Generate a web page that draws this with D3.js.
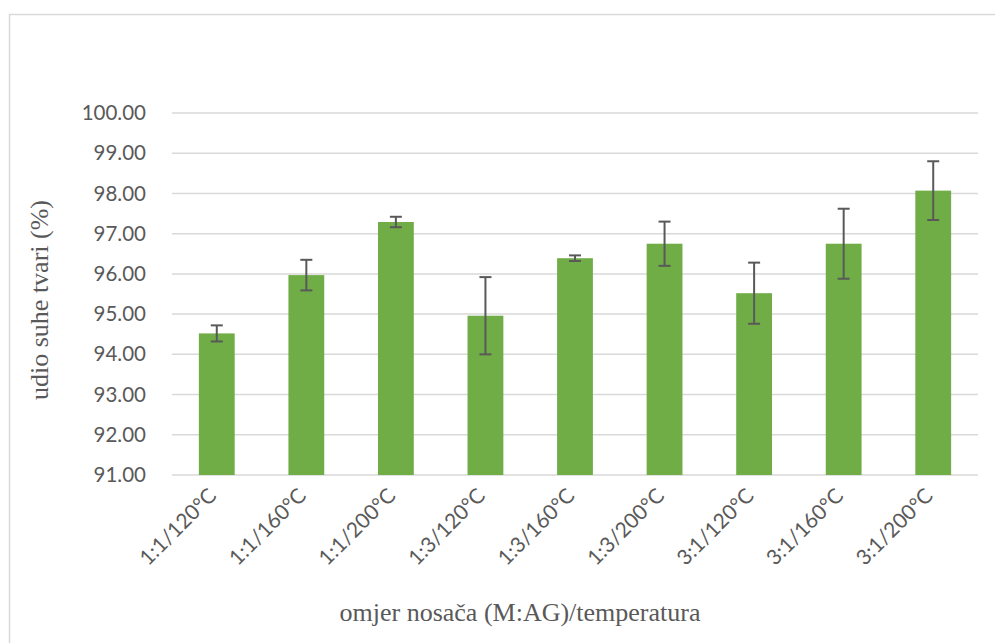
<!DOCTYPE html>
<html>
<head>
<meta charset="utf-8" />
<title>udio suhe tvari</title>
<style>
html, body {
	margin: 0px;
	padding: 0px;
	background: #fff;
}
svg { display: block; }
</style>
</head>
<body>
<div id="chart"></div>
<script src="https://d3js.org/d3.v7.min.js"></script>
<script>

// podaci
var categories = ["1:1/120°C", "1:1/160°C", "1:1/200°C", "1:3/120°C", "1:3/160°C", "1:3/200°C", "3:1/120°C", "3:1/160°C", "3:1/200°C"];
var values = [94.52, 95.97, 97.29, 94.96, 96.39, 96.75, 95.52, 96.75, 98.07];
var errors = [0.20, 0.38, 0.13, 0.96, 0.07, 0.55, 0.76, 0.87, 0.73];
var yTicks = [91, 92, 93, 94, 95, 96, 97, 98, 99, 100];

var W = 995, H = 643;
var margin = {top: 113, right: 17, bottom: 168, left: 172};

var svg = d3.select("#chart").append("svg")
	.attr("width", W)
	.attr("height", H);

// okvir grafikona
svg.append("rect")
	.attr("x", 9.5).attr("y", 14.5)
	.attr("width", W).attr("height", H)
	.attr("fill", "none")
	.attr("stroke", "#d9d9d9")
	.attr("stroke-width", 1.5);

var x = d3.scaleBand()
	.domain(categories)
	.range([margin.left, W - margin.right])
	.paddingInner(0.6)
	.paddingOuter(0.3);

var y = d3.scaleLinear()
	.domain([91, 100])
	.range([H - margin.bottom, margin.top]);

// mreza
svg.append("g")
	.selectAll("line")
	.data(yTicks)
	.enter()
	.append("line")
		.attr("x1", margin.left)
		.attr("x2", W - margin.right)
		.attr("y1", function(d){ return y(d); })
		.attr("y2", function(d){ return y(d); })
		.attr("stroke", "#d9d9d9")
		.attr("stroke-width", 1.5);

// y os
var yAxis = svg.append("g")
	.attr("transform", "translate(" + (margin.left - 23) + ",0)")
	.call(d3.axisLeft(y).tickValues(yTicks).tickFormat(d3.format(".2f")).tickSize(0));
yAxis.select(".domain").remove();
yAxis.selectAll("text")
	.attr("fill", "#595959")
	.style("font-family", "Lato, 'Open Sans', sans-serif")
	.style("font-size", "20.5px");

// stupci
svg.append("g")
	.selectAll("rect")
	.data(values)
	.enter()
	.append("rect")
		.attr("x", function(d, i){ return x(categories[i]); })
		.attr("width", x.bandwidth())
		.attr("y", function(d){ return y(d); })
		.attr("height", function(d){ return y(91) - y(d); })
		.attr("fill", "#70ad47");

// error bars
var eb = svg.append("g")
	.attr("stroke", "#595959")
	.attr("stroke-width", 2)
	.selectAll("g")
	.data(values)
	.enter()
	.append("g")
		.attr("transform", function(d, i){ return "translate(" + (x(categories[i]) + x.bandwidth() / 2) + ",0)"; });

eb.append("line")
	.attr("y1", function(d, i){ return y(d + errors[i]); })
	.attr("y2", function(d, i){ return y(d - errors[i]); });
eb.append("line")
	.attr("x1", -6).attr("x2", 6)
	.attr("y1", function(d, i){ return y(d + errors[i]); })
	.attr("y2", function(d, i){ return y(d + errors[i]); });
eb.append("line")
	.attr("x1", -6).attr("x2", 6)
	.attr("y1", function(d, i){ return y(d - errors[i]); })
	.attr("y2", function(d, i){ return y(d - errors[i]); });

// x os
var xAxis = svg.append("g")
	.attr("transform", "translate(0," + y(91) + ")")
	.call(d3.axisBottom(x).tickSize(0));
xAxis.select(".domain").remove();
xAxis.selectAll("text")
	.attr("fill", "#595959")
	.style("font-family", "Lato, 'Open Sans', sans-serif")
	.style("font-size", "21px")
	.style("text-anchor", "end")
	.attr("dy", null)
	.attr("y", 0)
	.attr("transform", "translate(1,22) rotate(-45)");

// naslovi osi
svg.append("text")
	.attr("x", 520)
	.attr("y", 621)
	.attr("text-anchor", "middle")
	.attr("fill", "#595959")
	.style("font-family", "'Liberation Serif', 'Times New Roman', serif")
	.style("font-size", "26px")
	.text("omjer nosača (M:AG)/temperatura");

svg.append("text")
	.attr("transform", "translate(48,300) rotate(-90)")
	.attr("text-anchor", "middle")
	.attr("fill", "#595959")
	.style("font-family", "'Liberation Serif', 'Times New Roman', serif")
	.style("font-size", "26px")
	.text("udio suhe tvari (%)");

</script>
</body>
</html>
